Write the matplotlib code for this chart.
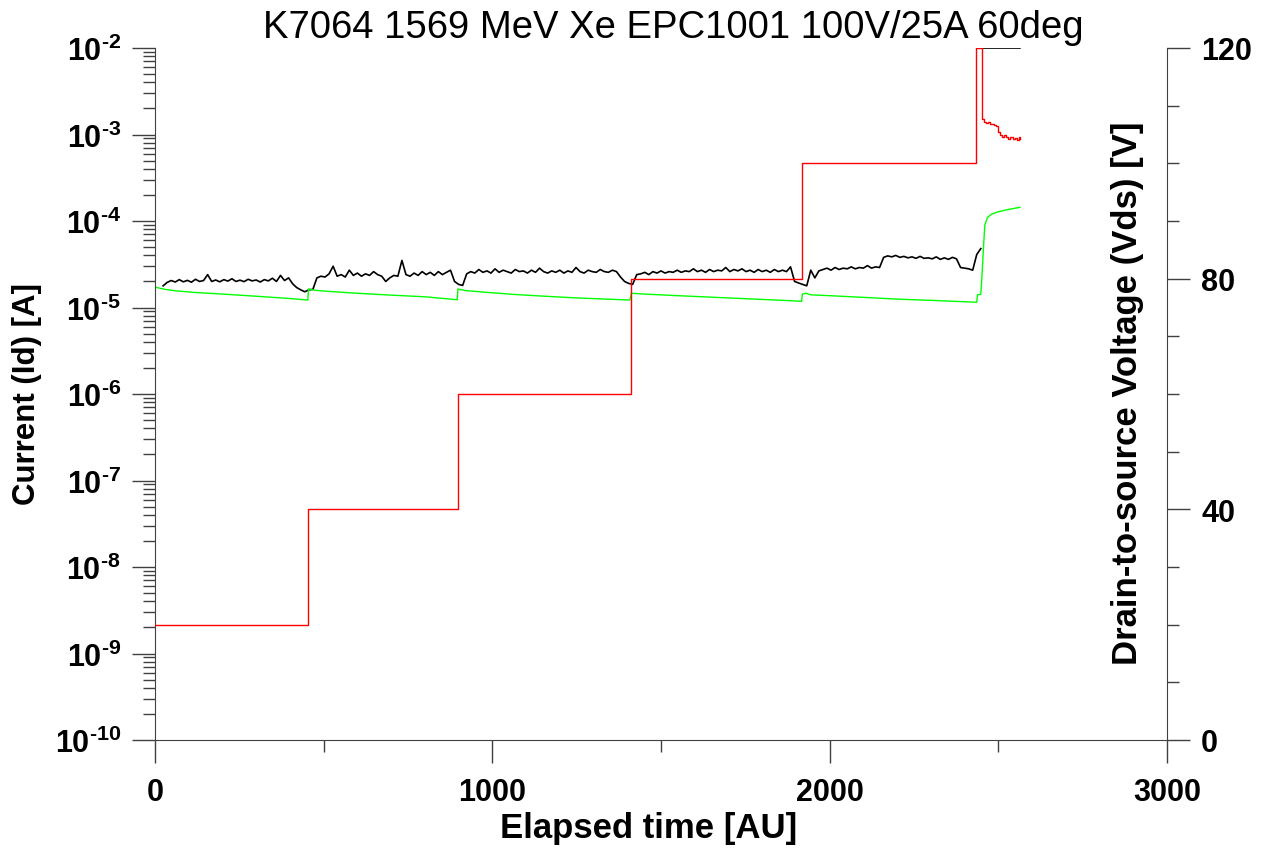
import numpy as np
import matplotlib
matplotlib.use("Agg")
import matplotlib.pyplot as plt
from matplotlib.ticker import LogLocator, MultipleLocator, NullFormatter

plt.rcParams['font.family'] = 'Liberation Sans'
plt.rcParams['font.weight'] = 'bold'
plt.rcParams['mathtext.fontset'] = 'custom'
plt.rcParams['mathtext.rm'] = 'Liberation Sans'
plt.rcParams['mathtext.bf'] = 'Liberation Sans:bold'

# Drain current Id, one sample every 12 AU starting at t = 24 (units of 1e-5 A)
id_t0, id_dt = 24, 12
id_vals = [
    # 20 V
    1.78, 1.95, 2.05, 1.97, 2.10, 1.98, 2.06, 1.96, 2.12, 2.00, 2.05, 2.40, 2.00, 2.08, 1.98, 2.10,
    2.02, 2.15, 2.00, 2.07, 1.99, 2.12, 2.03, 2.08, 1.97, 2.10, 2.03, 2.18, 2.00, 2.35, 2.05, 2.20,
    1.88, 1.70, 1.60, 1.52, 1.60, 1.62,
    # 40 V
    2.20, 2.30, 2.25, 2.45, 3.00, 2.30, 2.40, 2.25, 2.70, 2.35, 2.50, 2.30, 2.45, 2.35, 2.60, 2.40,
    2.30, 2.00, 2.20, 2.35, 2.30, 3.50, 2.40, 2.30, 2.50, 2.35, 2.60, 2.40, 2.55, 2.35, 2.60, 2.40,
    2.55, 2.70, 2.00,
    1.85, 1.80, 2.45,
    # 60 V
    2.60, 2.50, 2.75, 2.55, 2.65, 2.50, 2.80, 2.55, 2.70, 2.60, 2.50, 2.75, 2.60, 2.65, 2.50, 2.70,
    2.55, 2.85, 2.60, 2.50, 2.65, 2.55, 2.70, 2.50, 2.65, 2.55, 2.90, 2.60, 2.50, 2.70, 2.60, 2.55,
    2.75, 2.60, 2.55, 2.70, 2.60,
    2.25, 2.00, 1.90, 1.85, 2.40,
    # 80 V
    2.45, 2.55, 2.40, 2.60, 2.50, 2.65, 2.50, 2.60, 2.55, 2.70, 2.55, 2.65, 2.60, 2.80, 2.60, 2.70,
    2.55, 2.75, 2.60, 2.70, 2.65, 2.90, 2.60, 2.75, 2.65, 2.80, 2.60, 2.70, 2.55, 2.75, 2.60, 2.70,
    2.55, 2.75, 2.60, 2.70, 2.60, 2.95,
    2.00, 1.92, 1.85, 1.78, 2.70, 2.20, 2.65,
    # 100 V
    2.75, 2.85, 2.70, 2.90, 2.75, 2.85, 2.80, 2.95, 2.80, 2.90, 2.85, 3.05, 2.85, 2.95, 2.90,
    3.80, 3.95, 3.85, 4.00, 3.80, 3.90, 3.75, 3.85, 3.70, 3.90, 3.70, 3.75, 3.65, 3.85, 3.60, 3.75,
    3.60, 3.80, 3.65,
    2.90, 2.85, 2.80, 2.70, 4.10, 4.80,
]
# burnout: after a gap the drain current sits on the 10 mA compliance (values in A)
id_tail_t = [2452, 2455, 2564]
id_tail = [np.nan, 1e-2, 1e-2]

# Gate current (units of 1e-5 A)
ig_t = [0, 30, 60, 120, 200, 300, 400, 453,
        455, 474, 520, 600, 700, 800, 896,
        898, 920, 980, 1060, 1141, 1250, 1408,
        1412, 1450, 1550, 1700, 1800, 1917,
        1919, 1930, 1945, 2000, 2100, 2200, 2300, 2436,
        2438, 2448, 2452, 2456, 2460, 2468, 2480, 2500, 2530, 2564]
ig_vals = [1.72, 1.62, 1.56, 1.49, 1.43, 1.35, 1.27, 1.22,
           1.64, 1.58, 1.53, 1.46, 1.39, 1.33, 1.23,
           1.64, 1.57, 1.50, 1.42, 1.36, 1.29, 1.22,
           1.46, 1.43, 1.37, 1.29, 1.24, 1.18,
           1.43, 1.46, 1.40, 1.37, 1.31, 1.25, 1.21, 1.15,
           1.40, 1.42, 2.5, 5.0, 9.0, 11.0, 12.0, 12.8, 13.6, 14.4]

# Drain-to-source bias (V), stepped
vds_t = [0, 454, 898, 1410, 1918, 2434, 2452,
         2458, 2464, 2470, 2476, 2482, 2488, 2494, 2500, 2506, 2512,
         2518, 2524, 2530, 2536, 2542, 2548, 2554, 2560, 2564]
vds = [20, 40, 60, 80, 100, 120, 107.7,
       107.2, 107.0, 107.1, 106.8, 106.9, 106.6, 106.5, 105.4, 105.0, 104.6,
       104.9, 104.5, 104.3, 104.6, 104.2, 104.4, 104.1, 104.5, 104.3]

t_id = id_t0 + id_dt * np.arange(len(id_vals))
id_all = np.concatenate([np.array(id_vals) * 1e-5, id_tail])
t_all = np.concatenate([t_id, id_tail_t])

fig = plt.figure(figsize=(12.69, 8.53), dpi=100)
ax = fig.add_axes([155 / 1269, 1 - 741 / 853, 1012 / 1269, 692 / 853])
ax2 = ax.twinx()

ax.plot(t_all, id_all, color='black', lw=1.2)
ax.plot(ig_t, np.array(ig_vals) * 1e-5, color='#00ff00', lw=1.0)
ax2.plot(vds_t, vds, color='red', lw=1.0, drawstyle='steps-post')

ax.set_yscale('log')
ax.set_ylim(1e-10, 1e-2)
ax.set_xlim(0, 3000)
ax2.set_ylim(0, 120)

# decade labels, exponent written with a plain hyphen
exps = list(range(-10, -1))
hyph = '\u2010'
ax.set_yticks([10.0 ** e for e in exps])
ax.set_yticklabels(['$\\mathbf{10^{' + hyph + str(-e) + '}}$' for e in exps])
ax.yaxis.set_minor_locator(LogLocator(base=10, subs=np.arange(2, 10), numticks=50))
ax.yaxis.set_minor_formatter(NullFormatter())
ax.set_xticks([0, 1000, 2000, 3000])
ax.set_xticks([500, 1500, 2500], minor=True)
ax2.set_yticks([0, 40, 80, 120])
ax2.yaxis.set_minor_locator(MultipleLocator(10))

axis_col = '#404040'
for a in (ax, ax2):
    a.tick_params(which='major', direction='out', length=16.5, width=1.0,
                  color=axis_col, labelsize=22)
    a.tick_params(which='minor', direction='out', length=8.5, width=1.0, color=axis_col)
ax.tick_params(axis='y', which='both', right=False, pad=8)
ax.tick_params(axis='x', which='both', top=False, pad=10)
ax2.tick_params(axis='y', which='both', left=False, right=True, pad=8)

ax.spines['top'].set_visible(False)
ax.spines['right'].set_visible(False)
ax.spines['left'].set_color(axis_col)
ax.spines['bottom'].set_color(axis_col)
for s in ('top', 'left', 'bottom'):
    ax2.spines[s].set_visible(False)
ax2.spines['right'].set_color(axis_col)

fig.text(673 / 1269, 1 - 38 / 853, 'K7064 1569 MeV Xe EPC1001 100V/25A 60deg',
         ha='center', va='baseline', fontsize=27.5, fontweight='normal')
fig.text(649 / 1269, 1 - 829 / 853, 'Elapsed time [AU]', ha='center', va='center', fontsize=25)
fig.text(27 / 1269, 1 - 394 / 853, 'Current (Id) [A]', rotation=90,
         ha='center', va='center', fontsize=22.5)
fig.text(1128 / 1269, 1 - 393 / 853, 'Drain-to-source Voltage (Vds) [V]', rotation=90,
         ha='center', va='center', fontsize=25)

fig.savefig('out.png', dpi=100)
